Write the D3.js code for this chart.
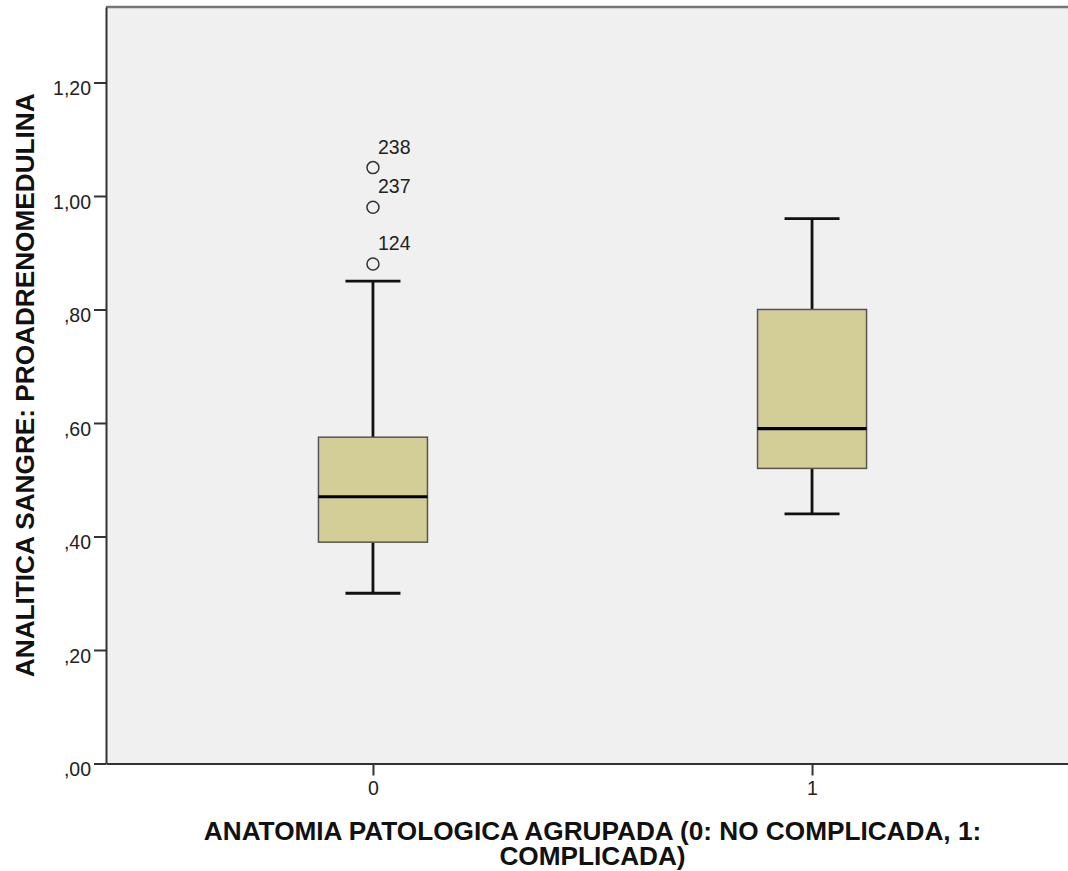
<!DOCTYPE html>
<html>
<head>
<meta charset="utf-8">
<style>
  body { margin: 0; background: #fff; }
  svg { display: block; font-family: "Liberation Sans", Arial, sans-serif; }
  .axis text { font-size: 19.5px; fill: #222; }
  .axis path, .axis line { stroke: #333; stroke-width: 2px; }
  .title { font-size: 26.2px; font-weight: bold; fill: #111; }
</style>
</head>
<body>
<svg width="1068" height="871"></svg>
<script src="https://d3js.org/d3.v7.min.js"></script>
<script>
// box summaries per group
const categories = ["0", "1"];
const whiskerLow = [0.30, 0.44];
const q1 = [0.39, 0.52];
const median = [0.47, 0.59];
const q3 = [0.575, 0.80];
const whiskerHigh = [0.85, 0.96];

// outliers (case numbers)
const outlierGroup = ["0", "0", "0"];
const outlierValue = [1.05, 0.98, 0.88];
const outlierCase = ["238", "237", "124"];

const yTicks = [0, 0.2, 0.4, 0.6, 0.8, 1.0, 1.2];

let plotLeft = 106, plotTop = 7, plotRight = 1079, plotBottom = 763.5;

let svg = d3.select("svg");

let x = d3.scalePoint()
    .domain(categories)
    .range([plotLeft, plotRight])
    .padding(0.608);

let y = d3.scaleLinear()
    .domain([0, 1.333])
    .range([plotBottom, plotTop]);

let boxW = 109, capW = 55;

// plot background
svg.append("rect")
    .attr("x", plotLeft).attr("y", plotTop)
    .attr("width", plotRight - plotLeft).attr("height", plotBottom - plotTop)
    .attr("fill", "#f0f0f0");

// top frame line
svg.append("line")
    .attr("x1", plotLeft).attr("x2", plotRight)
    .attr("y1", plotTop).attr("y2", plotTop)
    .attr("stroke", "#777").attr("stroke-width", 2.5);

let fmt = v => d3.format(".2f")(v).replace(".", ",").replace(/^0/, "");

let yAxis = svg.append("g")
    .attr("class", "axis")
    .attr("transform", `translate(${plotLeft},0)`)
    .call(d3.axisLeft(y).tickValues(yTicks).tickSize(12).tickSizeOuter(0).tickPadding(3).tickFormat(fmt));
yAxis.selectAll("text").attr("dy", "0.75em").attr("y", -2.5);

let xAxis = svg.append("g")
    .attr("class", "axis")
    .attr("transform", `translate(0,${plotBottom})`)
    .call(d3.axisBottom(x).tickSize(12).tickSizeOuter(0).tickPadding(6));

let boxes = categories.map((c, i) => ({
    c: c, lo: whiskerLow[i], q1: q1[i], med: median[i], q3: q3[i], hi: whiskerHigh[i]
}));

let g = svg.append("g").selectAll("g")
    .data(boxes)
    .join("g")
    .attr("transform", d => `translate(${x(d.c)},0)`);

// whisker stems
g.append("line")
    .attr("x1", 0).attr("x2", 0)
    .attr("y1", d => y(d.hi)).attr("y2", d => y(d.lo))
    .attr("stroke", "#111").attr("stroke-width", 2.8);

// caps
g.selectAll(".cap")
    .data(d => [d.lo, d.hi])
    .join("line")
    .attr("class", "cap")
    .attr("x1", -capW / 2).attr("x2", capW / 2)
    .attr("y1", v => y(v)).attr("y2", v => y(v))
    .attr("stroke", "#111").attr("stroke-width", 2.8);

g.append("rect")
    .attr("x", -boxW / 2)
    .attr("width", boxW)
    .attr("y", d => y(d.q3))
    .attr("height", d => y(d.q1) - y(d.q3))
    .attr("fill", "#d3ce98")
    .attr("stroke", "#555")
    .attr("stroke-width", 1.5);

g.append("line")
    .attr("x1", -boxW / 2).attr("x2", boxW / 2)
    .attr("y1", d => y(d.med)).attr("y2", d => y(d.med))
    .attr("stroke", "#000").attr("stroke-width", 3.2);

// outliers
let outliers = outlierValue.map((v, i) => ({ g: outlierGroup[i], v: v, id: outlierCase[i] }));

svg.append("g").selectAll("circle")
    .data(outliers)
    .join("circle")
    .attr("cx", d => x(d.g))
    .attr("cy", d => y(d.v))
    .attr("r", 6)
    .attr("fill", "none")
    .attr("stroke", "#333")
    .attr("stroke-width", 1.5);

svg.append("g").selectAll("text")
    .data(outliers)
    .join("text")
    .attr("x", d => x(d.g) + 5)
    .attr("y", d => y(d.v) - 14)
    .style("font-size", "19.5px")
    .style("fill", "#222")
    .text(d => d.id);

// axis titles
svg.append("text")
    .attr("class", "title")
    .attr("transform", `translate(34,${(plotTop + plotBottom) / 2}) rotate(-90)`)
    .attr("text-anchor", "middle")
    .text("ANALITICA SANGRE: PROADRENOMEDULINA");

let xt = svg.append("text")
    .attr("class", "title")
    .attr("text-anchor", "middle");
xt.append("tspan").attr("x", (plotLeft + plotRight) / 2).attr("y", 839.5)
    .text("ANATOMIA PATOLOGICA AGRUPADA (0: NO COMPLICADA, 1:");
xt.append("tspan").attr("x", (plotLeft + plotRight) / 2).attr("y", 865)
    .text("COMPLICADA)");
</script>
</body>
</html>
